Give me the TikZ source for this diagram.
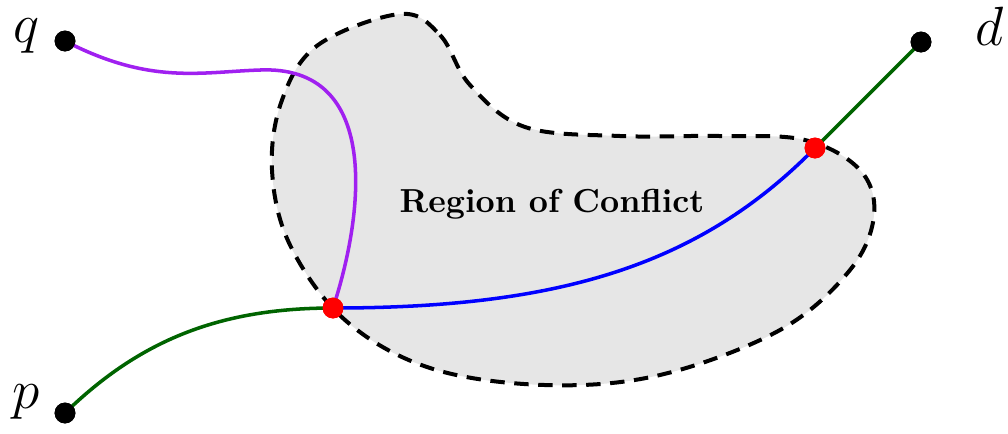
\documentclass[tikz,border=0pt]{standalone}
\usepackage{tikz}
\definecolor{pathpurple}{RGB}{160,32,240}
\definecolor{pathgreen}{RGB}{0,100,0}
\definecolor{regiongray}{RGB}{230,230,230}
\begin{document}
\begin{tikzpicture}[x=0.3125pt,y=-0.3125pt,
  blackdot/.style={circle,fill=black,inner sep=0pt,minimum size=6.5pt},
  reddot/.style={circle,fill=red,inner sep=0pt,minimum size=6.5pt},
  lbl/.style={inner sep=0pt,font=\LARGE},
  curve/.style={line width=1.1pt},
  region/.style={fill=regiongray,draw=black,line width=1.25pt,dash pattern=on 4.5pt off 3pt}]
\useasboundingbox (0,0) rectangle (1008,433);
% region
\draw[region] plot[smooth cycle,tension=0.6] coordinates {
 (400,14) (440,35) (470,85) (525,127) (620,136) (720,136) (805,140)
 (860,170) (874,215) (850,270) (780,330) (660,375) (545,385)
 (430,368) (345,320) (290,245) (272,170) (282,100) (318,45)};
\node[font=\fontsize{10.4}{12}\selectfont\bfseries] (roc) at (552,204) {Region of Conflict};
% points
\node[blackdot] (q) at (65,41) {};
\node[blackdot] (p) at (65,413) {};
\node[blackdot] (d) at (921,42) {};
\node[reddot] (c1) at (333,308) {};
\node[reddot] (c2) at (815,148) {};
\node[lbl] (ql) at (26,36) {$q$};
\node[lbl] (pl) at (26,402) {$p$};
\node[lbl] (dl) at (990,26) {$d$};
% curves
\draw[curve,pathpurple] (q.center) .. controls (150,85) and (200,72) .. (260,70)
  .. controls (380,65) and (365,210) .. (c1.center);
\draw[curve,pathgreen] (p.center) .. controls (140,340) and (220,308) .. (c1.center);
\draw[curve,blue] (c1.center) .. controls (560,308) and (700,265) .. (c2.center);
\draw[curve,pathgreen] (c2.center) -- (d.center);
\node[reddot] at (c1) {};
\node[reddot] at (c2) {};
\node[blackdot] at (q) {};
\node[blackdot] at (p) {};
\node[blackdot] at (d) {};
\end{tikzpicture}
\end{document}
